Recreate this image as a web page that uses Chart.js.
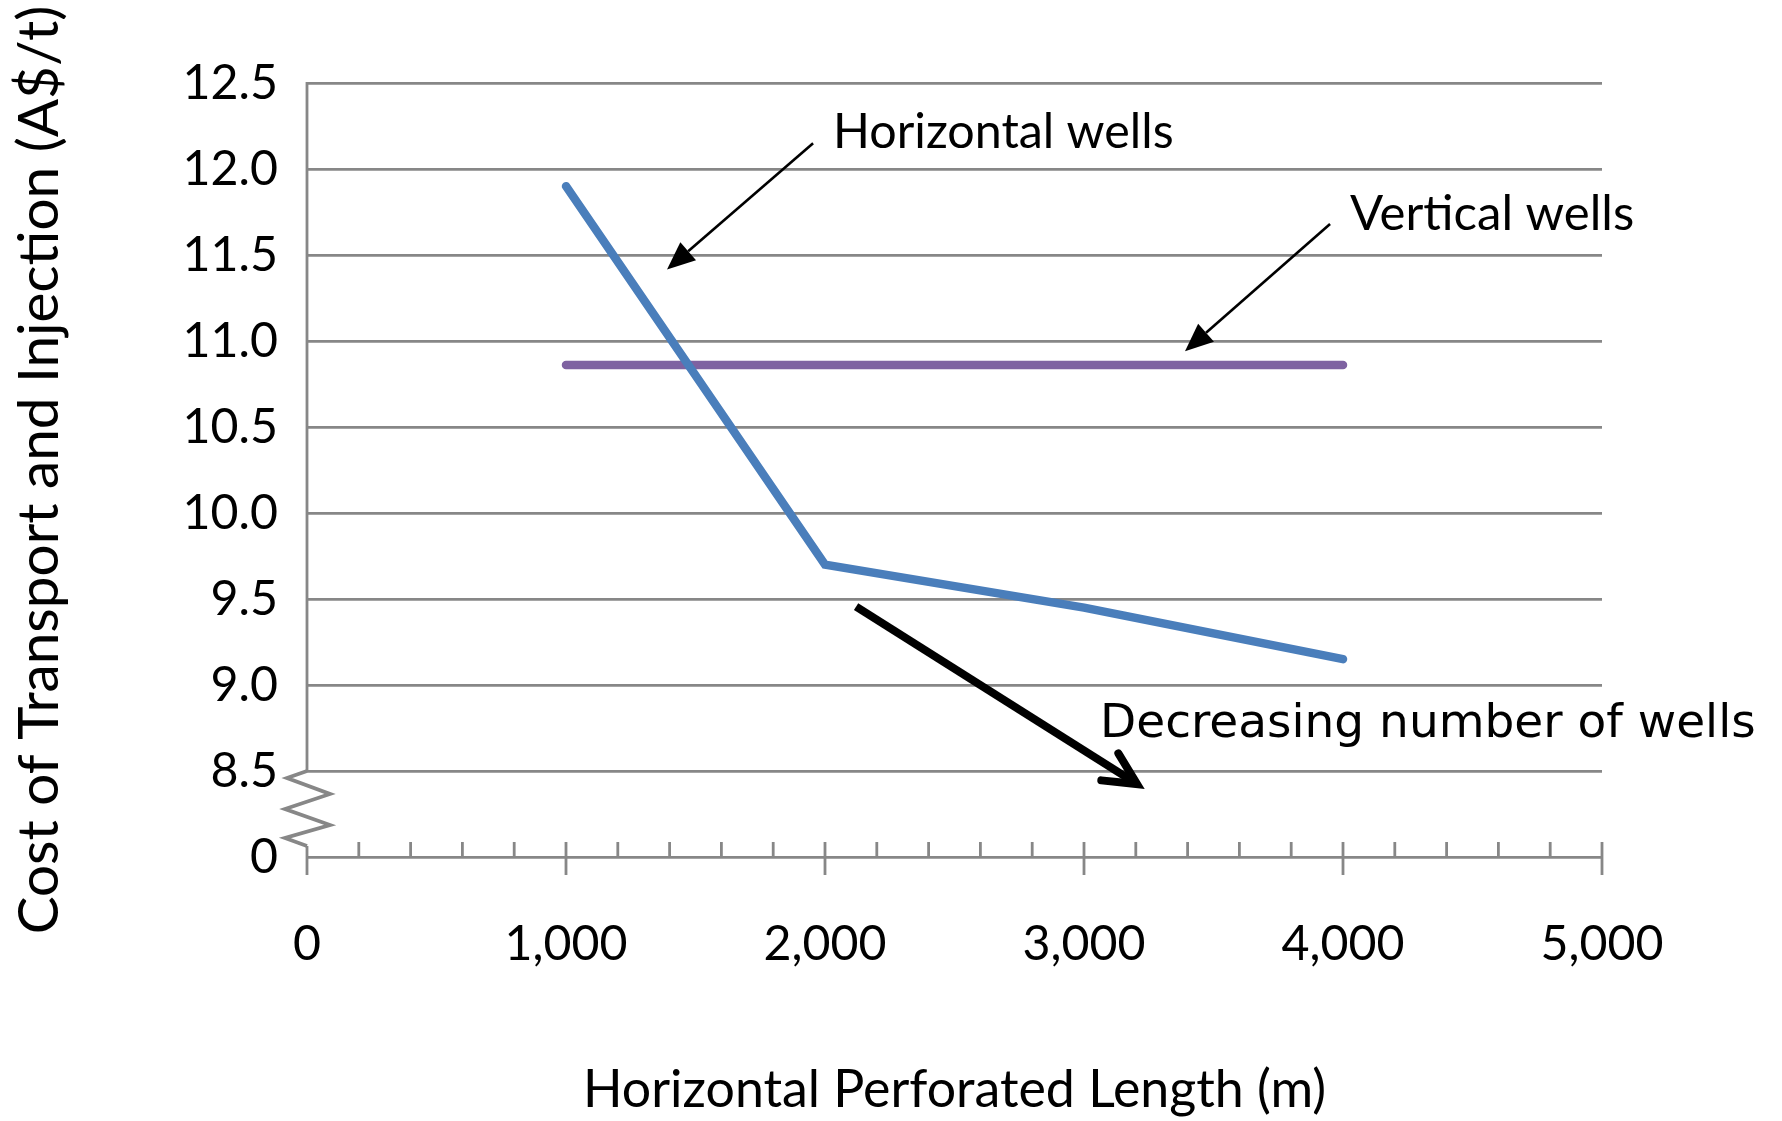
<!DOCTYPE html>
<html><head><meta charset="utf-8">
<script src="https://cdn.jsdelivr.net/npm/chart.js@4.4.1/dist/chart.umd.min.js"></script>
<style>html,body{margin:0;padding:0;background:#fff;}#wrap{width:1782px;height:1121px;}</style>
</head><body><div id="wrap"><canvas id="c" width="1782" height="1121"></canvas></div>
<script>
// ---- data ----
const xValues = [1000, 2000, 3000, 4000];
const horizontalWells = [11.9, 9.7, 9.45, 9.15];
const verticalWells = [10.86, 10.86, 10.86, 10.86];
const xTickValues = [0, 1000, 2000, 3000, 4000, 5000];
const xTickLabels = ['0', '1,000', '2,000', '3,000', '4,000', '5,000'];
// the lowest tick stands for the broken part of the axis (0)
const yTickValues = [8.0, 8.5, 9.0, 9.5, 10.0, 10.5, 11.0, 11.5, 12.0, 12.5];
const yTickLabels = ['0', '8.5', '9.0', '9.5', '10.0', '10.5', '11.0', '11.5', '12.0', '12.5'];
const xTitle = 'Horizontal Perforated Length (m)';
const yTitle = 'Cost of Transport and Injection (A$/t)';
// annotations in data units: [label, textX, textY, arrowFromX, arrowFromY, arrowToX, arrowToY, style]
const annotations = [
  ['Horizontal wells', 2031, 12.21, 1954, 12.15, 1390, 11.415, 'thin'],
  ['Vertical wells', 4027, 11.74, 3950, 11.68, 3390, 10.94, 'thin'],
  ['Decreasing number of wells', 3062, 8.77, 2120, 9.456, 3205, 8.424, 'thick']
];

const FONT = 'Lato, "Open Sans", sans-serif';
const FONT2 = '"DejaVu Sans", Verdana, sans-serif';
const GRID = '#878787';

// font sizes chosen so the substitute fonts take the same width as the original text
const mctx = document.createElement('canvas').getContext('2d');
function fit(text, family, w) { mctx.font = '100px ' + family; return 100 * w / mctx.measureText(text).width; }
const tickSize = fit('5,000', FONT, 123);
const yTitleSize = fit(yTitle, FONT, 929);
const xTitleSize = fit(xTitle, FONT, 743);
const annSizes = [fit(annotations[0][0], FONT, 341), fit(annotations[1][0], FONT, 284), fit(annotations[2][0], FONT2, 656)];
const annFonts = [FONT, FONT, FONT2];

function pts(ys) { return xValues.map((x, i) => ({x: x, y: ys[i]})); }

function arrow(ctx, x1, y1, x2, y2, style) {
  const ang = Math.atan2(y2 - y1, x2 - x1);
  ctx.save();
  ctx.strokeStyle = '#000'; ctx.fillStyle = '#000';
  if (style === 'thin') {
    const hl = 28, hw = 12;
    const bx = x2 - hl * Math.cos(ang), by = y2 - hl * Math.sin(ang);
    ctx.lineWidth = 2.6;
    ctx.beginPath(); ctx.moveTo(x1, y1); ctx.lineTo(bx, by); ctx.stroke();
    ctx.beginPath();
    ctx.moveTo(x2, y2);
    ctx.lineTo(bx + hw * Math.sin(ang), by - hw * Math.cos(ang));
    ctx.lineTo(bx - hw * Math.sin(ang), by + hw * Math.cos(ang));
    ctx.closePath(); ctx.fill();
  } else {
    ctx.lineWidth = 8; ctx.lineCap = 'butt';
    ctx.beginPath(); ctx.moveTo(x1, y1); ctx.lineTo(x2 - 3 * Math.cos(ang), y2 - 3 * Math.sin(ang)); ctx.stroke();
    const al = 36, a = 0.46;
    ctx.lineCap = 'round'; ctx.lineJoin = 'miter'; ctx.lineWidth = 8;
    ctx.beginPath();
    ctx.moveTo(x2 - al * Math.cos(ang - a), y2 - al * Math.sin(ang - a));
    ctx.lineTo(x2, y2);
    ctx.lineTo(x2 - al * Math.cos(ang + a), y2 - al * Math.sin(ang + a));
    ctx.stroke();
  }
  ctx.restore();
}

const decorations = {
  id: 'decorations',
  afterDatasetsDraw(chart) {
    const ctx = chart.ctx, xs = chart.scales.x, ys = chart.scales.y;
    const ax = xs.getPixelForValue(0);
    const axisY = ys.getPixelForValue(yTickValues[0]);
    const breakTop = ys.getPixelForValue(yTickValues[1]);
    ctx.save();
    ctx.strokeStyle = GRID;
    // vertical axis (upper part)
    ctx.lineWidth = 2.8;
    ctx.beginPath(); ctx.moveTo(ax, ys.getPixelForValue(yTickValues[yTickValues.length - 1]) - 1); ctx.lineTo(ax, breakTop); ctx.stroke();
    // axis break zigzag
    const zz = [[0, 0], [-20, 7], [23, 23], [-22, 38], [23, 54], [-22, 67], [0, 75]];
    ctx.lineWidth = 3.8; ctx.lineJoin = 'miter';
    ctx.beginPath();
    zz.forEach((p, i) => { const X = ax + p[0], Y = breakTop + p[1]; if (i) ctx.lineTo(X, Y); else ctx.moveTo(X, Y); });
    ctx.stroke();
    ctx.lineWidth = 2.8;
    ctx.beginPath(); ctx.moveTo(ax, breakTop + 75); ctx.lineTo(ax, axisY + 18); ctx.stroke();
    // x tick marks (major every 1000, minor every 200)
    for (let v = 200; v <= 5000; v += 200) {
      const px = xs.getPixelForValue(v);
      const major = v % 1000 === 0;
      ctx.beginPath(); ctx.moveTo(px, axisY - 15); ctx.lineTo(px, major ? axisY + 18 : axisY); ctx.stroke();
    }
    ctx.restore();
    // annotations
    ctx.save();
    ctx.fillStyle = '#000'; ctx.textAlign = 'left'; ctx.textBaseline = 'middle';
    annotations.forEach((a, i) => {
      arrow(ctx, xs.getPixelForValue(a[3]), ys.getPixelForValue(a[4]), xs.getPixelForValue(a[5]), ys.getPixelForValue(a[6]), a[7]);
      ctx.font = annSizes[i].toFixed(1) + 'px ' + annFonts[i];
      ctx.fillText(a[0], xs.getPixelForValue(a[1]), ys.getPixelForValue(a[2]));
    });
    ctx.restore();
  }
};

new Chart(document.getElementById('c'), {
  type: 'line',
  data: {
    datasets: [
      {label: 'Horizontal wells', data: pts(horizontalWells), borderColor: '#4A7EBB', borderWidth: 8.5,
       borderCapStyle: 'round', borderJoinStyle: 'miter', pointRadius: 0, tension: 0, fill: false},
      {label: 'Vertical wells', data: pts(verticalWells), borderColor: '#7E62A1', borderWidth: 8.5,
       borderCapStyle: 'round', pointRadius: 0, tension: 0, fill: false}
    ]
  },
  options: {
    responsive: false, animation: false, devicePixelRatio: 1,
    layout: {padding: {top: 83, right: 180, left: 0, bottom: 0}},
    plugins: {legend: {display: false}, tooltip: {enabled: false}},
    scales: {
      x: {
        type: 'linear', min: 0, max: 5000,
        afterBuildTicks: s => { s.ticks = xTickValues.map(v => ({value: v})); },
        afterFit: s => { s.height = 264; },
        grid: {display: false, drawTicks: false},
        border: {display: true, color: GRID, width: 2.8},
        ticks: {color: '#000', font: {family: FONT, size: tickSize}, padding: 58, maxRotation: 0,
                callback: v => xTickLabels[xTickValues.indexOf(v)]},
        title: {display: true, text: xTitle, color: '#000', font: {family: FONT, size: xTitleSize}, padding: {top: 0, bottom: 0}}
      },
      y: {
        type: 'linear', min: 8.0, max: 12.5,
        afterBuildTicks: s => { s.ticks = yTickValues.map(v => ({value: v})); },
        afterFit: s => { s.width = 307; },
        grid: {drawTicks: false, lineWidth: 2.8,
               color: c => (c.tick && c.tick.value === yTickValues[0]) ? 'rgba(0,0,0,0)' : GRID},
        border: {display: false},
        ticks: {color: '#000', font: {family: FONT, size: tickSize}, padding: 29,
                callback: v => yTickLabels[yTickValues.indexOf(v)]},
        title: {display: true, text: yTitle, color: '#000', font: {family: FONT, size: yTitleSize}, padding: {top: 6, bottom: 0}}
      }
    }
  },
  plugins: [decorations]
});
</script></body></html>
